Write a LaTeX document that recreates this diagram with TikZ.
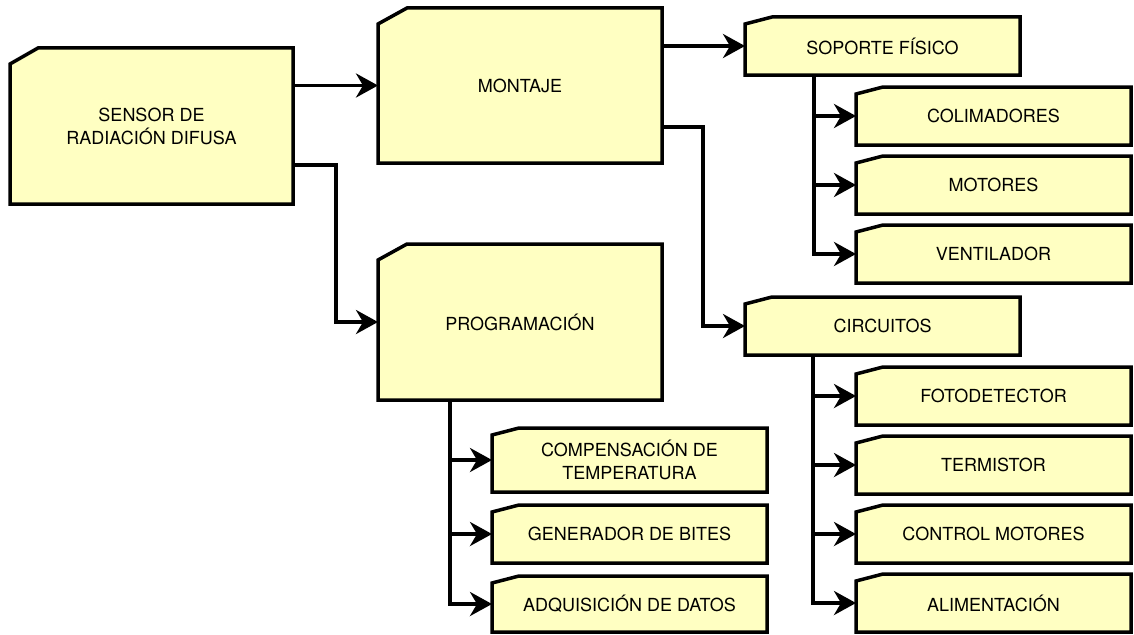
\documentclass[tikz,border=0pt]{standalone}
\usepackage{fontspec}
\setmainfont{TeX Gyre Heros}
\usetikzlibrary{calc,positioning,arrows.meta,backgrounds}
\definecolor{cardfill}{RGB}{255,255,194}
\tikzset{
	card/.style={rectangle,anchor=north west,inner sep=0pt,outer sep=0pt,minimum width=275pt,minimum height=58pt,align=center,font=\fontsize{18}{23}\selectfont},
	cardline/.style={line width=3.5pt,fill=cardfill,line join=miter},
	link/.style={line width=3.5pt,-{Stealth[length=22pt,width=24pt,inset=7pt]}}
}

\begin{document}
\begin{tikzpicture}[x=1pt,y=-1pt]
		\useasboundingbox (0,0) rectangle (1134,634);
		\node(sensor) [card,minimum width=283pt,minimum height=156pt] at (10,48) {SENSOR DE\\RADIACIÓN DIFUSA};
		\node(montaje) [card,minimum width=284pt,minimum height=155pt] at (378,8) {MONTAJE};
		\node(prog) [card,minimum width=284pt,minimum height=156pt] at (378,244) {PROGRAMACIÓN};

		\node(soporte) [card] at (745,17) {SOPORTE FÍSICO};
		\node(colim) [card] at (856,87) {COLIMADORES};
		\node(motores) [card,below=11pt of colim] {MOTORES};
		\node(venti) [card,below=11pt of motores] {VENTILADOR};

		\node(circ) [card] at (745,297) {CIRCUITOS};
		\node(foto) [card] at (856,367) {FOTODETECTOR};
		\node(termis) [card,below=11pt of foto] {TERMISTOR};
		\node(control) [card,below=11pt of termis] {CONTROL MOTORES};
		\node(alim) [card,below=11pt of control] {ALIMENTACIÓN};

		\node(compen) [card,minimum height=64pt] at (492,428) {COMPENSACIÓN DE\\TEMPERATURA};
		\node(bites) [card,below=13pt of compen] {GENERADOR DE BITES};
		\node(datos) [card,minimum height=56pt,below=13pt of bites] {ADQUISICIÓN DE DATOS};

		\begin{scope}[on background layer]
			\foreach \n/\cx/\cy in {sensor/28/16,montaje/29/16,prog/29/16,soporte/27/7,colim/27/7,motores/27/7,venti/27/7,circ/27/7,foto/27/7,termis/27/7,control/27/7,alim/27/7,compen/27/7,bites/27/7,datos/27/7}
				\draw[cardline] (\n.south west) -- ($(\n.north west)+(0,\cy)$) -- ($(\n.north west)+(\cx,0)$) -- (\n.north east) -- (\n.south east) -- cycle;
		\end{scope}

		\coordinate (sensorout) at ($(sensor.south east)+(0,-39)$);
		\coordinate (montout) at ($(montaje.south east)+(0,-36)$);
		\coordinate (soptrunk) at ($(soporte.south west)+(69,0)$);
		\coordinate (circtrunk) at ($(circ.south west)+(68,0)$);
		\coordinate (progtrunk) at ($(prog.south west)+(72,0)$);

		\draw[link] (sensor.east |- montaje.west) -- (montaje.west);
		\draw[link] (sensorout) -| ($(prog.west)+(-42,0)$) -- (prog.west);
		\draw[link] (montaje.east |- soporte.west) -- (soporte.west);
		\draw[link] (montout) -| ($(circ.west)+(-42,0)$) -- (circ.west);

		\draw[link] (soptrunk) |- (venti.west);
		\foreach \c in {colim,motores}
			\draw[link] (soptrunk |- \c.west) -- (\c.west);
		\draw[link] (circtrunk) |- (alim.west);
		\foreach \c in {foto,termis,control}
			\draw[link] (circtrunk |- \c.west) -- (\c.west);
		\draw[link] (progtrunk) |- (datos.west);
		\foreach \c in {compen,bites}
			\draw[link] (progtrunk |- \c.west) -- (\c.west);
	\end{tikzpicture}
\end{document}
